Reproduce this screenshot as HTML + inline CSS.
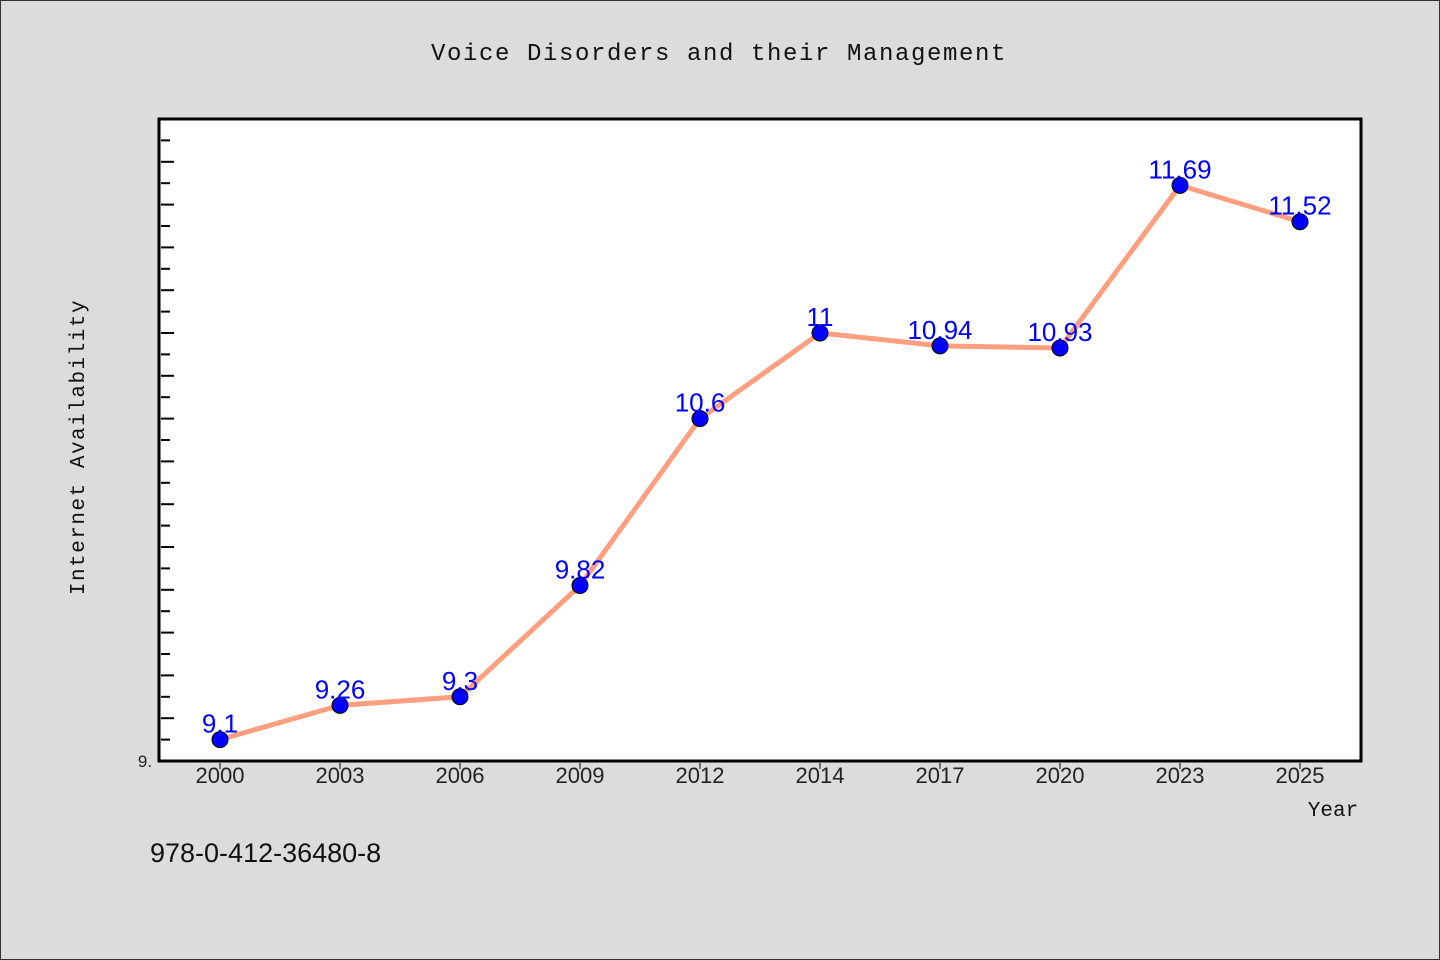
<!DOCTYPE html>
<html><head><meta charset="utf-8"><style>
html,body{margin:0;padding:0;background:#dcdcdc;}
svg{display:block;}
text{font-family:"Liberation Sans","Noto Sans CJK JP",sans-serif;}
</style></head><body>
<svg id="chart" width="1440" height="960" xmlns="http://www.w3.org/2000/svg">
<rect x="0.5" y="0.5" width="1439" height="959" fill="#dcdcdc" stroke="#333" stroke-width="1"/>
<text x="719" y="60" text-anchor="middle" font-size="24" style="font-family:'Liberation Mono',monospace;letter-spacing:1.6px" fill="#111">Voice Disorders and their Management</text>
<rect x="159" y="119" width="1202" height="642" fill="#fff" stroke="#000" stroke-width="3"/>
<g id="yticks"></g>
<g id="xticks"></g>
<g id="series"></g>
<text x="145" y="767" text-anchor="middle" font-size="17" fill="#222">9.</text>
<text transform="translate(84,447) rotate(-90)" text-anchor="middle" font-size="21" style="font-family:'Liberation Mono',monospace;letter-spacing:1.5px" fill="#111">Internet Availability</text>
<text x="1333" y="816" text-anchor="middle" font-size="21" style="font-family:'Liberation Mono',monospace" fill="#111">Year</text>
<text x="150" y="862" font-size="27" fill="#111">978-0-412-36480-8</text>
</svg>
<script>
const categories=["2000","2003","2006","2009","2012","2014","2017","2020","2023","2025"];
const values=[9.1,9.26,9.3,9.82,10.6,11,10.94,10.93,11.69,11.52];
const valueLabels=["9.1","9.26","9.3","9.82","10.6","11","10.94","10.93","11.69","11.52"];
const yMin=9,yMax=12;
const NS="http://www.w3.org/2000/svg";
const plotTop=119,plotBottom=761,plotLeft=159;
function yScale(v){return plotBottom-(v-yMin)/(yMax-yMin)*(plotBottom-plotTop);}
function xScale(i){return 220+i*120;}
function mk(tag,attrs,parent){const e=document.createElementNS(NS,tag);for(const k in attrs)e.setAttribute(k,attrs[k]);parent.appendChild(e);return e;}
const yt=document.getElementById('yticks');
for(let k=1;k<30;k++){
  const v=yMin+k*0.1;const y=yScale(v);
  const t=mk('line',{x1:plotLeft+2,x2:plotLeft+2+(k%2===0?13:9),y1:y,y2:y,stroke:'#000','stroke-width':2},yt);
  
  
}
const xt=document.getElementById('xticks');
categories.forEach((c,i)=>{
  const x=xScale(i);
  const l=mk('line',{x1:x,x2:x,y1:plotBottom+2,y2:plotBottom+8,stroke:'#000','stroke-width':1},xt);
  
  
  const t=mk('text',{x:x,y:783,'text-anchor':'middle','font-size':22,fill:'#222'},xt);
  
  
  t.textContent=c;
});
const s=document.getElementById('series');
const pts=values.map((v,i)=>xScale(i)+','+yScale(v)).join(' ');
const pl=mk('polyline',{points:pts,fill:'none',stroke:'#ff9f7f','stroke-width':5,'stroke-linejoin':'round'},s);


values.forEach((v,i)=>{
  const c=mk('circle',{cx:xScale(i),cy:yScale(v),r:8,fill:'#0000ff',stroke:'#000','stroke-width':1},s);
  
  
  const t=mk('text',{x:xScale(i),y:yScale(v)-7,'text-anchor':'middle','font-size':26,fill:'#0000ff'},s);
  
  
  t.textContent=valueLabels[i];
});
</script>
</body></html>
